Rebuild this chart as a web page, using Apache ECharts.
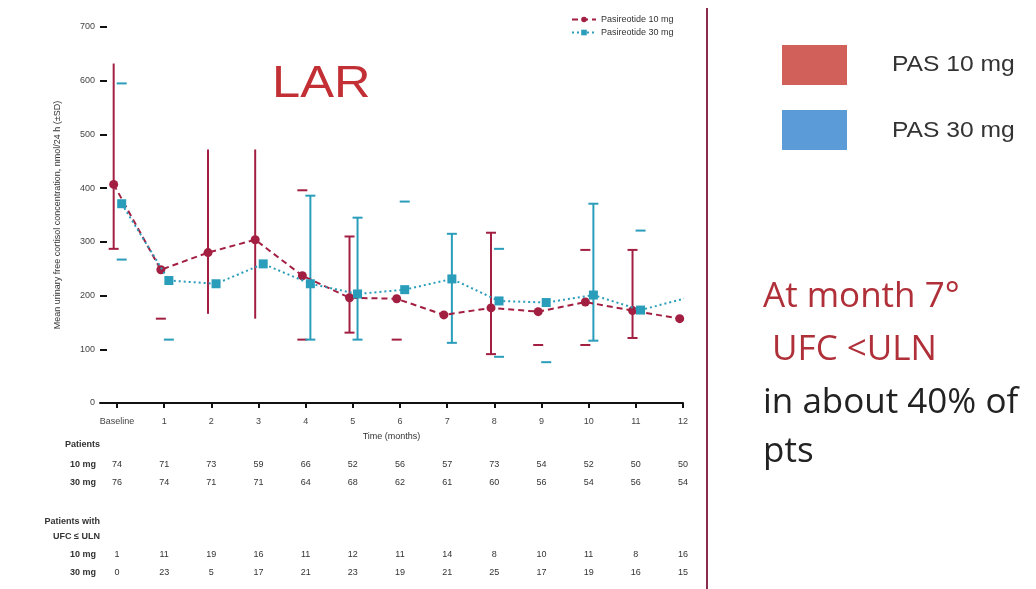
<!DOCTYPE html>
<html>
<head>
<meta charset="utf-8">
<script src="https://cdn.jsdelivr.net/npm/echarts@6/dist/echarts.min.js"></script>
<style>
  html, body { margin: 0; padding: 0; background: #fff; }
  #main { width: 1036px; height: 589px; }
</style>
</head>
<body>
<div id="main"></div>
<script>
// months: 0 = baseline
var months = [0, 1, 2, 3, 4, 5, 6, 7, 8, 9, 10, 11, 12];
var monthLabels = ['Baseline', '1', '2', '3', '4', '5', '6', '7', '8', '9', '10', '11', '12'];

// mean UFC, nmol/24h
var mean10 = [407, 248, 280, 304, 237, 196, 194, 164, 177, 170, 188, 172, 157];
var mean30 = [371, 228, 222, 259, 222, 203, 211, 231, 190, 187, 201, 173, 196];

// error bar ends (null = not shown)
var low10  = [287, 157, 166, 157, 118, 131, 118, null, 91, 108, 108, 121, null];
var high10 = [632, null, 472, 472, 396, 310, null, null, 317, null, 285, 285, null];
var low30  = [267, 118, null, null, 118, 118, null, 112, 86, 76, 116, null, null];
var high30 = [595, null, null, null, 386, 345, 375, 315, 287, null, 371, 321, null];
// what part of each bar is visible in the source picture
var bar10 = ['full', 'caps', 'stem', 'stem', 'caps', 'full', 'caps', null, 'full', 'caps', 'caps', 'full', null];
var bar30 = ['caps', 'caps', null, null, 'full', 'full', 'caps', 'full', 'caps', 'caps', 'full', 'caps', null];

// table under the chart
var patients10 = [74, 71, 73, 59, 66, 52, 56, 57, 73, 54, 52, 50, 50];
var patients30 = [76, 74, 71, 71, 64, 68, 62, 61, 60, 56, 54, 56, 54];
var normal10 = [1, 11, 19, 16, 11, 12, 11, 14, 8, 10, 11, 8, 16];
var normal30 = [0, 23, 5, 17, 21, 23, 19, 21, 25, 17, 19, 16, 15];

var red = '#a31f42';
var teal = '#2a9dba';
var dodge10 = -0.07, dodge30 = 0.1;

var myChart = echarts.init(document.getElementById('main'));

function errorBars(name, lows, highs, kinds, dodge, color) {
  return {
    type: 'custom',
    name: name + ' SD',
    z: 2,
    silent: true,
    data: months.map(function (m, i) { return [m + dodge, lows[i] == null ? 0 : lows[i]]; }),
    renderItem: function (params, api) {
      var i = params.dataIndex;
      var kind = kinds[i];
      var x = months[i] + dodge;
      var style = { stroke: color, lineWidth: 2 };
      var children = [];
      if (!kind) return { type: 'group', children: children };
      var lo = lows[i], hi = highs[i];
      if (kind !== 'caps' && lo != null && hi != null) {
        var a = api.coord([x, lo]), b = api.coord([x, hi]);
        children.push({ type: 'line', shape: { x1: a[0], y1: a[1], x2: b[0], y2: b[1] }, style: style });
      }
      if (kind !== 'stem') {
        // no top cap on the tall baseline bar
        [lo, i === 0 && kind === 'full' ? null : hi].forEach(function (v) {
          if (v == null) return;
          var p = api.coord([x, v]);
          children.push({ type: 'line', shape: { x1: p[0] - 5, y1: p[1], x2: p[0] + 5, y2: p[1] }, style: style });
        });
      }
      return { type: 'group', children: children };
    }
  };
}

function tableAxis(rowName, values, offset) {
  return {
    type: 'value', min: -0.36, max: 12, position: 'bottom', offset: offset,
    axisLine: { show: false, onZero: false }, axisTick: { show: false }, splitLine: { show: false },
    name: rowName, nameLocation: 'start', nameGap: 4,
    nameTextStyle: { fontSize: 9, color: '#333', fontWeight: 'bold' },
    axisLabel: {
      customValues: months, margin: 0, verticalAlign: 'middle', fontSize: 9, color: '#333',
      formatter: function (v) { return String(values[Math.round(v)]); }
    }
  };
}

function sideText(text, x, y, size, color, family, sx) {
  return {
    type: 'text', x: x, y: y, scaleX: sx,
    style: { text: text, fontSize: size, fill: color, verticalAlign: 'middle', fontFamily: family }
  };
}

var option = {
  backgroundColor: '#fff',
  animation: false,
  textStyle: { fontFamily: 'Liberation Sans, Arial, sans-serif' },
  legend: {
    data: ['Pasireotide 10 mg', 'Pasireotide 30 mg'],
    orient: 'vertical', left: 566, top: 10,
    itemWidth: 24, itemHeight: 7, itemGap: 4,
    textStyle: { fontSize: 9, color: '#333' }
  },
  grid: { left: 100, right: 353, top: 27, bottom: 186, containLabel: false },
  xAxis: [
    {
      type: 'value', min: -0.36, max: 12,
      name: 'Time (months)', nameLocation: 'middle', nameGap: 29,
      nameTextStyle: { fontSize: 9, color: '#333' },
      axisLine: { onZero: false, lineStyle: { color: '#111', width: 2 } },
      axisTick: { customValues: months, length: 5, lineStyle: { color: '#111', width: 2 } },
      axisLabel: {
        customValues: months, margin: 14, fontSize: 9, color: '#444',
        formatter: function (v) { return monthLabels[Math.round(v)]; }
      },
      splitLine: { show: false }
    },
    tableAxis('10 mg', patients10, 62),
    tableAxis('30 mg', patients30, 80),
    tableAxis('10 mg', normal10, 152),
    tableAxis('30 mg', normal30, 170)
  ],
  yAxis: {
    type: 'value', min: 0, max: 700, interval: 100,
    name: 'Mean urinary free cortisol concentration, nmol/24 h (\u00b1SD)',
    nameLocation: 'middle', nameGap: 38,
    nameTextStyle: { fontSize: 9, color: '#333' },
    axisLine: { show: false, onZero: false },
    axisTick: { show: true, inside: true, length: 7, lineStyle: { color: '#111', width: 2 } },
    axisLabel: { fontSize: 9, color: '#444', margin: 5 },
    splitLine: { show: false }
  },
  graphic: [
    sideText('LAR', 272, 85, 44, '#c22f35', 'Liberation Sans, Arial, sans-serif', 1.15),
    { type: 'text', x: 100, y: 445, style: { text: 'Patients', fontSize: 9, fontWeight: 'bold', fill: '#333', align: 'right', verticalAlign: 'middle' } },
    { type: 'text', x: 100, y: 522, style: { text: 'Patients with', fontSize: 9, fontWeight: 'bold', fill: '#333', align: 'right', verticalAlign: 'middle' } },
    { type: 'text', x: 100, y: 537, style: { text: 'UFC \u2264 ULN', fontSize: 9, fontWeight: 'bold', fill: '#333', align: 'right', verticalAlign: 'middle' } },
    { type: 'line', shape: { x1: 707, y1: 8, x2: 707, y2: 589 }, style: { stroke: '#8b2c4e', lineWidth: 2 } },
    { type: 'rect', shape: { x: 782, y: 45, width: 65, height: 40 }, style: { fill: '#d1605a' } },
    { type: 'rect', shape: { x: 782, y: 110, width: 65, height: 40 }, style: { fill: '#5b9bd8' } },
    sideText('PAS 10 mg', 892, 65, 22, '#333', 'Liberation Sans, Arial, sans-serif', 1.12),
    sideText('PAS 30 mg', 892, 131, 22, '#333', 'Liberation Sans, Arial, sans-serif', 1.12),
    sideText('At month 7\u00b0', 763, 297, 35, '#b0303a', 'Open Sans, sans-serif', 1),
    sideText(' UFC <ULN', 763, 350, 35, '#b0303a', 'Open Sans, sans-serif', 1),
    sideText('in about 40% of', 763, 403, 35, '#222', 'Open Sans, sans-serif', 1),
    sideText('pts', 763, 452, 35, '#222', 'Open Sans, sans-serif', 1)
  ],
  series: [
    errorBars('Pasireotide 10 mg', low10, high10, bar10, dodge10, red),
    errorBars('Pasireotide 30 mg', low30, high30, bar30, dodge30, teal),
    {
      type: 'line', name: 'Pasireotide 10 mg', z: 3,
      data: months.map(function (m, i) { return [m + dodge10, mean10[i]]; }),
      symbol: 'circle', symbolSize: 9,
      itemStyle: { color: red },
      lineStyle: { color: red, width: 2, type: [6, 4] }
    },
    {
      type: 'line', name: 'Pasireotide 30 mg', z: 4,
      data: months.map(function (m, i) { return [m + dodge30, mean30[i]]; }),
      symbol: 'rect', symbolSize: 9,
      itemStyle: { color: teal },
      lineStyle: { color: teal, width: 2, type: [2, 3] }
    }
  ]
};

myChart.setOption(option);
</script>
</body>
</html>
